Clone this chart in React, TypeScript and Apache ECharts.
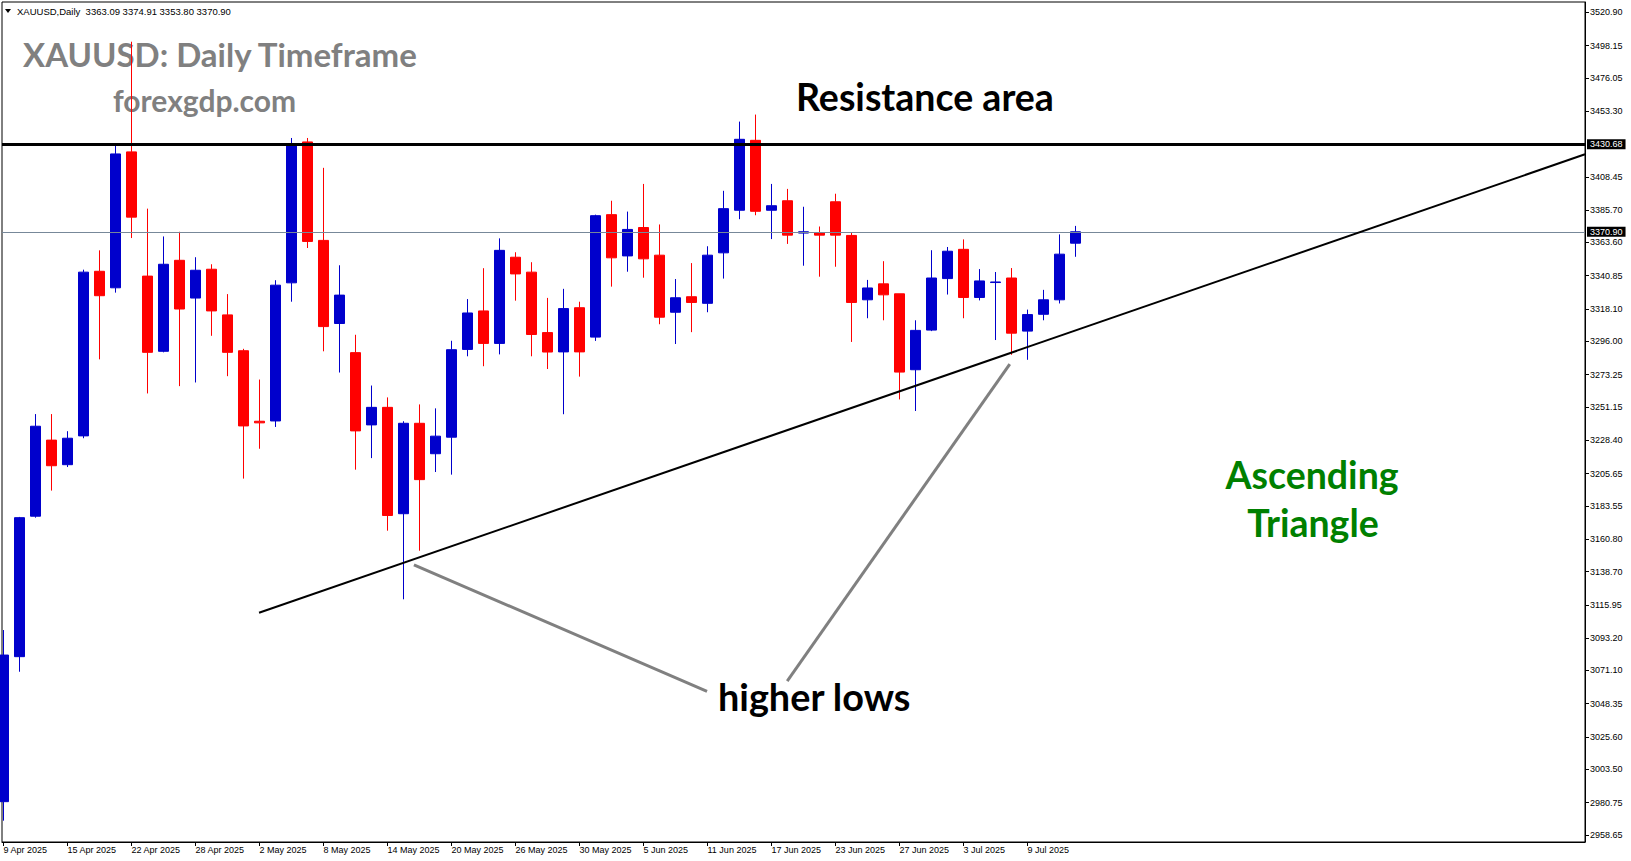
import React, { useEffect, useRef } from "react";
import * as echarts from "echarts";

// ---- data ----
const dates = [
  "9 Apr 2025", "10 Apr 2025", "11 Apr 2025", "14 Apr 2025", "15 Apr 2025", "16 Apr 2025", "17 Apr 2025",
  "21 Apr 2025", "22 Apr 2025", "23 Apr 2025", "24 Apr 2025", "25 Apr 2025", "28 Apr 2025", "29 Apr 2025",
  "30 Apr 2025", "1 May 2025", "2 May 2025", "5 May 2025", "6 May 2025", "7 May 2025", "8 May 2025",
  "9 May 2025", "12 May 2025", "13 May 2025", "14 May 2025", "15 May 2025", "16 May 2025", "19 May 2025",
  "20 May 2025", "21 May 2025", "22 May 2025", "23 May 2025", "26 May 2025", "27 May 2025", "28 May 2025",
  "29 May 2025", "30 May 2025", "2 Jun 2025", "3 Jun 2025", "4 Jun 2025", "5 Jun 2025", "6 Jun 2025",
  "9 Jun 2025", "10 Jun 2025", "11 Jun 2025", "12 Jun 2025", "13 Jun 2025", "16 Jun 2025", "17 Jun 2025",
  "18 Jun 2025", "19 Jun 2025", "20 Jun 2025", "23 Jun 2025", "24 Jun 2025", "25 Jun 2025", "26 Jun 2025",
  "27 Jun 2025", "30 Jun 2025", "1 Jul 2025", "2 Jul 2025", "3 Jul 2025", "4 Jul 2025", "7 Jul 2025",
  "8 Jul 2025", "9 Jul 2025", "10 Jul 2025", "11 Jul 2025", "14 Jul 2025",
];

const opens = [
  2981.4, 3080.5, 3176.5, 3228.5, 3211.7, 3231.4, 3343.9, 3332.6, 3425.5, 3340.6,
  3289.2, 3351.4, 3325.6, 3345.3, 3314.1, 3289.6, 3241.4, 3241.6, 3336.0, 3432.3,
  3365.0, 3308.2, 3288.3, 3238.9, 3250.9, 3178.2, 3240.0, 3219.2, 3230.5, 3290.5,
  3316.8, 3294.6, 3353.5, 3343.3, 3302.0, 3288.8, 3319.0, 3298.9, 3382.6, 3354.4,
  3373.8, 3354.9, 3315.9, 3326.5, 3322.0, 3356.5, 3385.6, 3433.4, 3385.6, 3392.1,
  3370.0, 3370.2, 3391.4, 3368.4, 3324.4, 3335.3, 3328.5, 3276.6, 3303.7, 3338.9,
  3358.9, 3326.0, 3336.2, 3339.3, 3303.0, 3314.5, 3324.4, 3363.09,
];
const highs = [
  3098.7, 3176.0, 3246.3, 3246.3, 3234.6, 3345.0, 3358.2, 3430.2, 3500.8, 3386.7,
  3367.7, 3370.9, 3353.5, 3348.7, 3328.3, 3290.9, 3269.9, 3337.8, 3435.0, 3435.0,
  3414.6, 3348.0, 3300.5, 3265.8, 3257.7, 3241.4, 3252.9, 3250.2, 3296.4, 3324.9,
  3346.0, 3366.4, 3356.9, 3350.1, 3325.7, 3331.9, 3323.1, 3382.6, 3392.1, 3384.7,
  3403.6, 3375.9, 3338.6, 3349.5, 3361.0, 3398.9, 3446.2, 3451.0, 3403.6, 3400.2,
  3388.0, 3374.5, 3396.9, 3370.5, 3338.0, 3350.8, 3328.5, 3310.4, 3358.3, 3360.5,
  3365.7, 3345.4, 3343.4, 3346.1, 3317.7, 3331.2, 3369.1, 3374.91,
];
const lows = [
  2968.4, 3070.2, 3175.5, 3194.0, 3210.1, 3229.8, 3283.7, 3329.3, 3366.6, 3260.4,
  3288.5, 3265.4, 3267.9, 3299.8, 3272.2, 3202.2, 3222.6, 3237.5, 3323.1, 3359.8,
  3289.2, 3274.7, 3208.3, 3216.2, 3166.6, 3119.7, 3152.9, 3206.7, 3204.9, 3285.8,
  3279.0, 3287.1, 3323.8, 3285.8, 3277.1, 3246.2, 3271.9, 3296.3, 3333.4, 3343.6,
  3339.5, 3307.7, 3294.2, 3302.3, 3315.9, 3338.9, 3379.5, 3382.2, 3365.9, 3362.6,
  3347.7, 3340.2, 3347.0, 3295.6, 3311.8, 3310.4, 3256.3, 3248.4, 3303.0, 3328.0,
  3311.8, 3324.0, 3296.9, 3286.8, 3283.4, 3310.4, 3321.9, 3353.80,
];
const closes = [
  3081.6, 3175.5, 3238.0, 3211.0, 3229.8, 3343.3, 3327.2, 3424.1, 3380.9, 3288.5,
  3348.7, 3318.1, 3344.6, 3316.8, 3288.5, 3238.2, 3240.3, 3334.4, 3429.5, 3364.3,
  3306.1, 3327.6, 3234.8, 3250.9, 3177.0, 3240.0, 3201.5, 3231.2, 3290.3, 3315.4,
  3294.6, 3358.2, 3342.1, 3300.7, 3288.7, 3318.4, 3288.8, 3381.9, 3353.1, 3372.5,
  3352.4, 3312.5, 3325.8, 3322.6, 3354.9, 3386.7, 3434.1, 3384.9, 3388.7, 3368.6,
  3370.9, 3368.6, 3368.6, 3322.6, 3332.5, 3327.8, 3275.0, 3303.5, 3339.3, 3357.6,
  3326.0, 3337.3, 3336.6, 3301.6, 3314.3, 3324.4, 3355.6, 3370.90,
];

const yTickLabels = [
  3520.9, 3498.15, 3476.05, 3453.3, 3408.45, 3385.7, 3363.6, 3340.85, 3318.1, 3296.0,
  3273.25, 3251.15, 3228.4, 3205.65, 3183.55, 3160.8, 3138.7, 3115.95, 3093.2, 3071.1,
  3048.35, 3025.6, 3003.5, 2980.75, 2958.65,
];
const xLabelIndices = [0, 4, 8, 12, 16, 20, 24, 28, 32, 36, 40, 44, 48, 52, 56, 60, 64];

const resistanceLevel = 3430.68;
const lastPrice = 3370.9;
const trendLinePts = [[15.97, 3110.5], [98.84, 3423.85]];
const leftPointerPts = [[25.65, 3143.3], [43.97, 3056.7]];
const rightPointerPts = [[62.89, 3280.5], [48.98, 3063.8]];

const Y_MIN = 2953.83;
const Y_MAX = 3527.94;
const X_MIN = -0.09375;
const X_MAX = 98.84;

const AXIS_FONT = "Liberation Sans, Arial, sans-serif";
const BIG_FONT = "Lato, sans-serif";

export default function App() {
  const ref = useRef<HTMLDivElement>(null);

  useEffect(() => {
    if (!ref.current) return;
    const chart = echarts.init(ref.current, null, { renderer: "svg" });
    const data = dates.map((_, i) => [i, opens[i], closes[i], lows[i], highs[i]]);
    const last = dates.length - 1;
    const header = `XAUUSD,Daily\u00a0\u00a0${opens[last].toFixed(2)} ${highs[last].toFixed(2)} ${lows[last].toFixed(2)} ${closes[last].toFixed(2)}`;

    const priceLabel = {
      show: true,
      position: "end",
      distance: 2,
      formatter: (p: any) => Number(p.value).toFixed(2),
      backgroundColor: "#000",
      color: "#fff",
      fontFamily: AXIS_FONT,
      fontSize: 9,
      padding: [1, 3, 0, 3],
    };

    const option: any = {
      animation: false,
      backgroundColor: "#ffffff",
      grid: {
        left: 2,
        right: 46,
        top: 2,
        bottom: 19,
        show: true,
        borderColor: "#000",
        borderWidth: 1,
        containLabel: false,
      },
      xAxis: {
        type: "value",
        min: X_MIN,
        max: X_MAX,
        splitLine: { show: false },
        axisLine: { show: true, onZero: false, lineStyle: { color: "#000", width: 1 } },
        axisTick: {
          show: true,
          customValues: xLabelIndices,
          length: 4,
          lineStyle: { color: "#000" },
        },
        axisLabel: {
          show: true,
          customValues: xLabelIndices,
          formatter: (v: number) => dates[Math.round(v)] ?? "",
          align: "left",
          margin: 3,
          fontSize: 9,
          fontFamily: AXIS_FONT,
          color: "#000",
        },
      },
      yAxis: {
        type: "value",
        position: "right",
        min: Y_MIN,
        max: Y_MAX,
        scale: true,
        splitLine: { show: false },
        axisLine: { show: true, onZero: false, lineStyle: { color: "#000", width: 1 } },
        axisTick: {
          show: true,
          customValues: yTickLabels,
          length: 4,
          lineStyle: { color: "#000" },
        },
        axisLabel: {
          show: true,
          customValues: yTickLabels,
          formatter: (v: number) => v.toFixed(2),
          margin: 5,
          fontSize: 9,
          fontFamily: AXIS_FONT,
          color: "#000",
          padding: [6, 0, 0, 0],
        },
      },
      series: [
        {
          type: "candlestick",
          data,
          encode: { x: 0, y: [1, 2, 3, 4] },
          barWidth: 10,
          clip: true,
          itemStyle: {
            color: "#0000cc",
            color0: "#ff0000",
            borderColor: "#0000cc",
            borderColor0: "#ff0000",
            borderWidth: 1,
          },
          markLine: {
            silent: true,
            symbol: "none",
            animation: false,
            label: { show: false },
            emphasis: { disabled: true },
            data: [
              {
                yAxis: lastPrice,
                lineStyle: { color: "#778899", width: 1, type: "solid" },
                label: priceLabel,
              },
              {
                yAxis: resistanceLevel,
                lineStyle: { color: "#000", width: 3, type: "solid" },
                label: priceLabel,
              },
              [
                { coord: trendLinePts[0], lineStyle: { color: "#000", width: 2, type: "solid" } },
                { coord: trendLinePts[1] },
              ],
              [
                { coord: leftPointerPts[0], lineStyle: { color: "#808080", width: 3, type: "solid" } },
                { coord: leftPointerPts[1] },
              ],
              [
                { coord: rightPointerPts[0], lineStyle: { color: "#808080", width: 3, type: "solid" } },
                { coord: rightPointerPts[1] },
              ],
            ],
          },
        },
      ],
      graphic: [
        {
          type: "polygon",
          shape: { points: [[5, 9], [11, 9], [8, 13]] },
          style: { fill: "#000" },
          silent: true,
        },
        {
          type: "text",
          x: 17,
          y: 11,
          silent: true,
          style: { text: header, fill: "#000", font: `9.5px ${AXIS_FONT}`, align: "left", verticalAlign: "middle" },
        },
        {
          type: "text",
          x: 23,
          y: 53.9,
          silent: true,
          style: { text: "XAUUSD: Daily Timeframe", fill: "#808080", font: `bold 33px ${BIG_FONT}`, align: "left", verticalAlign: "middle" },
        },
        {
          type: "text",
          x: 113,
          y: 100.1,
          silent: true,
          style: { text: "forexgdp.com", fill: "#808080", font: `bold 30px ${BIG_FONT}`, align: "left", verticalAlign: "middle" },
        },
        {
          type: "text",
          x: 796,
          y: 96.2,
          silent: true,
          style: { text: "Resistance area", fill: "#000", font: `bold 37.5px ${BIG_FONT}`, align: "left", verticalAlign: "middle" },
        },
        {
          type: "text",
          x: 718,
          y: 696.3,
          silent: true,
          style: { text: "higher lows", fill: "#000", font: `bold 37.8px ${BIG_FONT}`, align: "left", verticalAlign: "middle" },
        },
        {
          type: "text",
          x: 1312,
          y: 474,
          silent: true,
          style: { text: "Ascending", fill: "#008000", font: `bold 37.5px ${BIG_FONT}`, align: "center", verticalAlign: "middle" },
        },
        {
          type: "text",
          x: 1313,
          y: 522,
          silent: true,
          style: { text: "Triangle", fill: "#008000", font: `bold 37.5px ${BIG_FONT}`, align: "center", verticalAlign: "middle" },
        },
      ],
    };

    chart.setOption(option);
    return () => chart.dispose();
  }, []);

  return (
    <div
      ref={ref}
      style={{ position: "fixed", left: 0, top: 0, width: 1631, height: 861, background: "#fff" }}
    />
  );
}
